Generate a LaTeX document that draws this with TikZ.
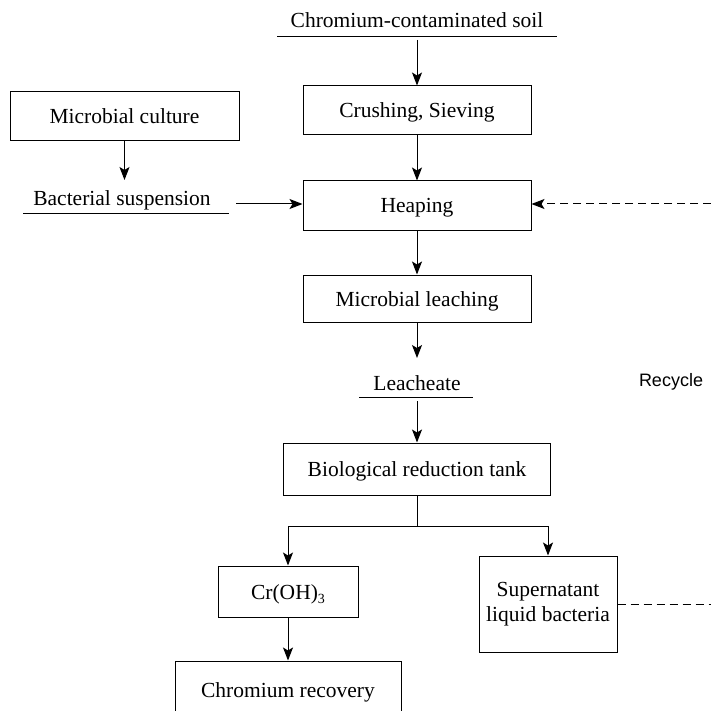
\documentclass[tikz,border=0pt]{standalone}
\usepackage{fontspec}
\setmainfont{Liberation Serif}
\newfontfamily\labelsans{Liberation Sans}
\usetikzlibrary{arrows.meta}
\newcommand{\lowsub}[1]{\raisebox{-4.5pt}{\fontsize{14}{14}\selectfont #1}}
\begin{document}
\begin{tikzpicture}[x=1pt,y=-1pt,
  every node/.style={font=\fontsize{21.5}{25}\selectfont},
  box/.style={draw,line width=1pt,inner sep=0pt,align=center},
  oneline/.style={box,text height=15pt,text depth=0pt},
  conn/.style={line width=1pt},
  arr/.style={conn,-{Stealth[length=13pt,width=10pt,inset=3pt]}},
  recyc/.style={arr,dash pattern=on 8pt off 5pt}]
\useasboundingbox (0,0) rectangle (711,711);
\begin{scope}
\clip (0,0) rectangle (711,711);

% process boxes
\node[oneline,minimum width=228,minimum height=49] (crush) at (417,110.5) {Crushing, Sieving};
\node[oneline,minimum width=229,minimum height=49] (culture) at (124.5,116.5) {Microbial culture};
\node[oneline,minimum width=228,minimum height=49] (heap) at (417,205.5) {Heaping};
\node[oneline,minimum width=228,minimum height=47] (leach) at (417,298.5) {Microbial leaching};
\node[oneline,minimum width=267,minimum height=52] (bio) at (417,469) {Biological reduction tank};
\node[oneline,minimum width=140,minimum height=51] (croh) at (288,591.5) {Cr(OH)\lowsub{3}};
\node[box,minimum width=138,minimum height=96] (super) at (548,604) {Supernatant\\liquid bacteria};
\node[oneline,minimum width=226,minimum height=58] (recov) at (288,690) {Chromium recovery};

% underlined material labels
\node (soil) at (417,20) {Chromium-contaminated soil};
\draw[conn] (277,37) -- (557,37);
\node (bact) at (122,200) {Bacterial suspension};
\draw[conn] (23,213.5) -- (229,213.5);
\node (leachate) at (417,383) {Leacheate};
\draw[conn] (359,397.5) -- (473,397.5);
\node[font=\labelsans\fontsize{18}{21}\selectfont] (recycle) at (671,382) {Recycle};

% connector end points
\coordinate (soilout) at (417,40);
\coordinate (bactin) at (124,180);
\coordinate (bactout) at (236,204);
\coordinate (leachout) at (417,358);
\coordinate (leachatein) at (417,401);
\coordinate (split) at (417,526);
\coordinate (recyclein) at (711,204);
\coordinate (recycleout) at (711,604);

% main flow
\draw[arr] (soilout) -- (crush);
\draw[arr] (crush) -- (heap);
\draw[arr] (culture.south) -- (culture.south |- bactin);
\draw[arr] (bactout) -- (bactout -| heap.west);
\draw[arr] (heap) -- (leach);
\draw[arr] (leach.south) -- (leachout);
\draw[arr] (leachatein) -- (bio.north);
\draw[conn] (bio.south) -- (split);
\draw[arr] (split) -| (croh.north);
\draw[arr] (split) -| (super.north);
\draw[arr] (croh) -- (recov);

% recycle path
\draw[recyc] (recyclein) -- (recyclein -| heap.east);
\draw[conn,dash pattern=on 8pt off 5pt] (super.east) -- (recycleout);
\end{scope}
\end{tikzpicture}
\end{document}
